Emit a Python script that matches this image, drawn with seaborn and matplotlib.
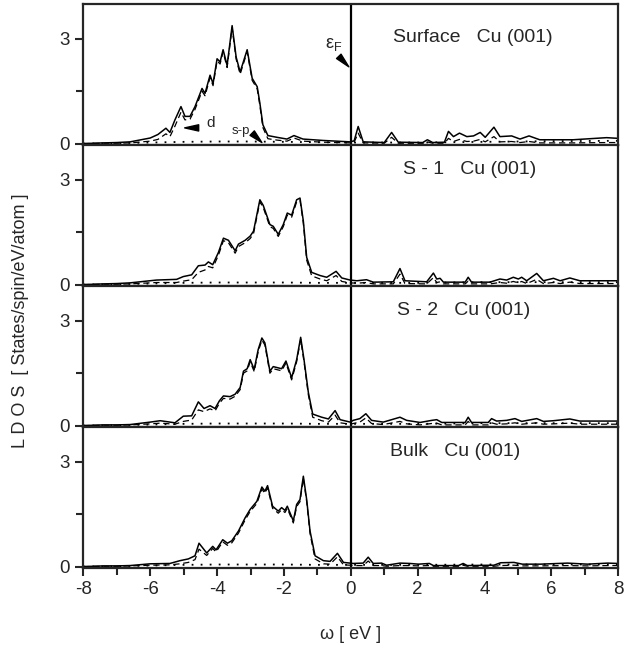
import numpy as np
import matplotlib
matplotlib.use("Agg")
import matplotlib.pyplot as plt
import seaborn as sns

# ---- data (energy in eV, LDOS in states/spin/eV/atom) ----
panel_labels = ["Surface   Cu (001)", "S - 1   Cu (001)", "S - 2   Cu (001)", "Bulk   Cu (001)"]

x_surf = [-8.0, -7.4, -7.0, -6.6, -6.0, -5.77, -5.53, -5.41, -5.26, -5.08, -4.96, -4.81, -4.66, -4.45, -4.36,
          -4.21, -4.12, -4.0, -3.91, -3.82, -3.70, -3.55, -3.43, -3.31, -3.10, -2.95, -2.80, -2.72, -2.63, -2.48,
          -2.21, -1.91, -1.70, -1.43, -0.83, -0.02, 0.1, 0.22, 0.37, 1.0, 1.22, 1.42, 2.15, 2.29, 2.45, 2.8, 2.92,
          3.07, 3.25, 3.47, 3.67, 3.87, 4.02, 4.28, 4.46, 4.81, 5.06, 5.33, 5.65, 6.65, 7.65, 8.0]
tot_surf = [0.0, 0.02, 0.03, 0.05, 0.16, 0.26, 0.44, 0.32, 0.68, 1.06, 0.78, 0.78, 1.06, 1.58, 1.44,
            1.96, 1.72, 2.43, 2.34, 2.69, 2.24, 3.38, 2.48, 2.05, 2.69, 1.87, 1.63, 1.16, 0.54, 0.23,
            0.18, 0.13, 0.23, 0.13, 0.09, 0.05, 0.08, 0.49, 0.05, 0.03, 0.32, 0.04, 0.03, 0.11, 0.03, 0.04, 0.35,
            0.2, 0.3, 0.2, 0.22, 0.32, 0.18, 0.47, 0.2, 0.22, 0.13, 0.22, 0.11, 0.11, 0.17, 0.15]
d_surf = [0.0, 0.01, 0.01, 0.02, 0.07, 0.12, 0.28, 0.2, 0.5, 0.9, 0.68, 0.7, 0.98, 1.5, 1.37,
          1.89, 1.66, 2.37, 2.28, 2.63, 2.18, 3.32, 2.42, 1.99, 2.63, 1.81, 1.57, 1.09, 0.46, 0.14,
          0.1, 0.07, 0.16, 0.07, 0.04, 0.02, 0.04, 0.3, 0.02, 0.01, 0.18, 0.01, 0.01, 0.05, 0.01, 0.01, 0.15,
          0.06, 0.12, 0.06, 0.07, 0.12, 0.05, 0.2, 0.05, 0.06, 0.03, 0.06, 0.02, 0.02, 0.03, 0.03]

x_s1 = [-8.0, -7.4, -7.0, -6.6, -5.81, -5.21, -5.01, -4.76, -4.56, -4.36, -4.26, -4.13, -3.96, -3.81, -3.66,
        -3.46, -3.36, -3.16, -3.01, -2.91, -2.72, -2.62, -2.42, -2.32, -2.17, -2.02, -1.90, -1.77, -1.62, -1.52,
        -1.42, -1.32, -1.17, -0.92, -0.72, -0.44, -0.27, -0.02, 0.18, 0.47, 0.67, 1.27, 1.47, 1.62, 2.27, 2.47,
        2.57, 2.67, 2.77, 3.42, 3.51, 3.61, 4.16, 4.46, 4.66, 4.86, 5.01, 5.11, 5.26, 5.56, 5.76, 6.06, 6.26,
        6.55, 6.85, 8.0]
tot_s1 = [0.0, 0.02, 0.03, 0.05, 0.13, 0.15, 0.23, 0.28, 0.54, 0.56, 0.65, 0.57, 0.92, 1.33, 1.27,
          0.97, 1.16, 1.27, 1.39, 1.53, 2.43, 2.27, 1.72, 1.67, 1.44, 1.72, 2.05, 1.99, 2.43, 2.48,
          1.82, 0.78, 0.35, 0.26, 0.21, 0.38, 0.19, 0.13, 0.11, 0.14, 0.07, 0.08, 0.46, 0.11, 0.08, 0.33,
          0.16, 0.18, 0.07, 0.07, 0.21, 0.07, 0.07, 0.16, 0.13, 0.21, 0.16, 0.21, 0.11, 0.32, 0.11, 0.18, 0.11,
          0.19, 0.11, 0.11]
d_s1 = [0.0, 0.01, 0.01, 0.02, 0.06, 0.06, 0.1, 0.14, 0.35, 0.42, 0.52, 0.48, 0.84, 1.26, 1.2,
        0.9, 1.09, 1.2, 1.32, 1.46, 2.37, 2.21, 1.66, 1.61, 1.38, 1.66, 1.99, 1.93, 2.37, 2.42,
        1.76, 0.7, 0.25, 0.16, 0.11, 0.26, 0.09, 0.05, 0.04, 0.06, 0.02, 0.02, 0.3, 0.03, 0.02, 0.2,
        0.06, 0.08, 0.02, 0.02, 0.1, 0.02, 0.02, 0.06, 0.04, 0.09, 0.05, 0.09, 0.03, 0.15, 0.03, 0.06, 0.03,
        0.07, 0.03, 0.03]

x_s2 = [-8.0, -7.4, -7.0, -6.6, -6.0, -5.7, -5.26, -5.01, -4.76, -4.56, -4.39, -4.21, -4.06, -3.93, -3.81,
        -3.61, -3.46, -3.31, -3.21, -3.10, -3.01, -2.89, -2.77, -2.66, -2.57, -2.42, -2.32, -2.07, -1.94, -1.77,
        -1.62, -1.50, -1.40, -1.27, -1.14, -0.87, -0.67, -0.47, -0.32, -0.02, 0.07, 0.27, 0.45, 0.62, 0.97,
        1.47, 1.67, 2.07, 2.42, 2.57, 2.72, 3.42, 3.51, 3.61, 4.11, 4.21, 4.36, 4.66, 4.91, 5.11, 5.56, 5.76,
        6.06, 6.55, 6.85, 8.0]
tot_s2 = [0.0, 0.02, 0.02, 0.03, 0.1, 0.14, 0.08, 0.27, 0.28, 0.68, 0.49, 0.57, 0.49, 0.71, 0.85,
          0.83, 0.9, 1.09, 1.56, 1.63, 1.89, 1.61, 2.18, 2.51, 2.37, 1.56, 1.69, 1.63, 1.85, 1.37,
          1.89, 2.53, 1.89, 0.95, 0.33, 0.24, 0.19, 0.43, 0.17, 0.1, 0.15, 0.2, 0.34, 0.15, 0.1,
          0.24, 0.15, 0.09, 0.15, 0.17, 0.09, 0.09, 0.24, 0.09, 0.09, 0.2, 0.13, 0.15, 0.2, 0.12, 0.2, 0.12,
          0.14, 0.19, 0.13, 0.13]
d_s2 = [0.0, 0.01, 0.01, 0.02, 0.05, 0.07, 0.04, 0.12, 0.16, 0.45, 0.4, 0.48, 0.42, 0.64, 0.78,
        0.76, 0.84, 1.03, 1.5, 1.57, 1.83, 1.55, 2.12, 2.45, 2.31, 1.5, 1.63, 1.57, 1.79, 1.31,
        1.83, 2.47, 1.83, 0.88, 0.24, 0.14, 0.1, 0.3, 0.08, 0.04, 0.06, 0.1, 0.22, 0.06, 0.03,
        0.12, 0.05, 0.02, 0.06, 0.07, 0.02, 0.02, 0.12, 0.02, 0.02, 0.08, 0.04, 0.05, 0.08, 0.04, 0.08, 0.04,
        0.05, 0.07, 0.04, 0.04]

x_bulk = [-8.0, -7.4, -7.0, -6.6, -6.0, -5.41, -5.11, -4.86, -4.66, -4.54, -4.31, -4.13, -4.03, -3.83, -3.69,
          -3.56, -3.36, -3.16, -3.01, -2.81, -2.66, -2.57, -2.49, -2.34, -2.17, -2.07, -1.97, -1.90, -1.72, -1.62,
          -1.52, -1.42, -1.32, -1.22, -1.07, -0.82, -0.62, -0.40, -0.22, -0.02, 0.07, 0.37, 0.52, 0.67, 0.92,
          1.07, 1.47, 1.77, 2.02, 2.35, 2.47, 3.22, 3.36, 3.48, 4.28, 4.48, 4.88, 5.13, 5.68, 6.48, 7.08, 7.68, 8.0]
tot_bulk = [0.0, 0.02, 0.02, 0.03, 0.08, 0.09, 0.17, 0.22, 0.31, 0.67, 0.39, 0.58, 0.48, 0.77, 0.67,
            0.74, 1.02, 1.4, 1.64, 1.87, 2.28, 2.16, 2.32, 1.73, 1.59, 1.69, 1.61, 1.73, 1.31, 1.78,
            1.92, 2.59, 1.92, 1.02, 0.31, 0.17, 0.15, 0.38, 0.12, 0.1, 0.09, 0.1, 0.27, 0.09, 0.1,
            0.04, 0.1, 0.09, 0.07, 0.09, 0.03, 0.03, 0.09, 0.03, 0.04, 0.11, 0.12, 0.07, 0.07, 0.1, 0.07, 0.1, 0.09]
d_bulk = [0.0, 0.01, 0.01, 0.02, 0.04, 0.05, 0.08, 0.12, 0.2, 0.5, 0.32, 0.52, 0.42, 0.71, 0.61,
          0.68, 0.96, 1.34, 1.58, 1.81, 2.22, 2.1, 2.26, 1.67, 1.53, 1.63, 1.55, 1.67, 1.25, 1.72,
          1.86, 2.53, 1.86, 0.95, 0.22, 0.08, 0.07, 0.28, 0.05, 0.04, 0.03, 0.03, 0.16, 0.03, 0.03,
          0.01, 0.03, 0.03, 0.02, 0.03, 0.01, 0.01, 0.04, 0.01, 0.01, 0.03, 0.04, 0.02, 0.02, 0.03, 0.02, 0.03, 0.03]

x_sp = [-8, -7, -6, -5, -4, -3, -2, -1, 0, 2, 4, 6, 8]
sp_surf = [0.0, 0.01, 0.03, 0.05, 0.06, 0.06, 0.05, 0.04, 0.03, 0.03, 0.05, 0.07, 0.08]
sp_s1 = [0.0, 0.01, 0.03, 0.05, 0.06, 0.06, 0.06, 0.05, 0.05, 0.05, 0.07, 0.07, 0.07]
sp_s2 = [0.0, 0.01, 0.03, 0.05, 0.06, 0.06, 0.06, 0.05, 0.05, 0.05, 0.07, 0.07, 0.07]
sp_bulk = [0.0, 0.01, 0.03, 0.05, 0.06, 0.06, 0.06, 0.05, 0.05, 0.05, 0.06, 0.06, 0.06]

panels = [(x_surf, tot_surf, d_surf, sp_surf),
          (x_s1, tot_s1, d_s1, sp_s1),
          (x_s2, tot_s2, d_s2, sp_s2),
          (x_bulk, tot_bulk, d_bulk, sp_bulk)]
label_pos = [(1.27, 3.03), (1.55, 3.3), (1.38, 3.3), (1.17, 3.3)]

sns.set_style("ticks")
plt.rcParams['font.family'] = ['Liberation Sans', 'DejaVu Sans']
plt.rcParams['mathtext.fontset'] = 'custom'
plt.rcParams['mathtext.rm'] = 'Liberation Sans'
plt.rcParams['axes.unicode_minus'] = False

fig, axs = plt.subplots(4, 1, sharex=True, figsize=(6.41, 6.54), dpi=100,
                        gridspec_kw=dict(hspace=0))
plt.subplots_adjust(left=0.13, right=0.9646, top=0.9939, bottom=0.1315)

for i, (ax, (x, tot, d, sp)) in enumerate(zip(axs, panels)):
    sns.lineplot(x=x_sp, y=sp, ax=ax, color='black', lw=1.3, linestyle=(0, (1, 4)))
    sns.lineplot(x=x, y=d, ax=ax, color='black', lw=0.9, linestyle=(0, (5, 3)))
    sns.lineplot(x=x, y=tot, ax=ax, color='black', lw=1.1)
    ax.axvline(0, color='black', lw=1.6)
    ax.set_xlim(-8, 8)
    ax.set_ylim(-0.04, 4.0)
    ax.set_yticks([0, 3])
    ax.set_yticks([1.5], minor=True)
    ax.set_xticks(np.arange(-8, 9, 2))
    ax.set_xticks(np.arange(-7, 8, 2), minor=True)
    for s in ax.spines.values():
        s.set_linewidth(1.6)
        s.set_visible(True)
    ax.tick_params(axis='y', which='major', direction='out', length=6, width=1.5, labelsize=13.5)
    ax.tick_params(axis='y', which='minor', direction='out', length=5, width=1.5)
    if i < 3:
        ax.tick_params(axis='x', which='both', bottom=False, labelbottom=False)
    else:
        ax.tick_params(axis='x', which='major', direction='out', length=6, width=1.5, labelsize=13.5)
        ax.tick_params(axis='x', which='minor', direction='out', length=5, width=1.5)
    ax.set_xlabel("")
    ax.set_ylabel("")
    ax.text(label_pos[i][0], label_pos[i][1], panel_labels[i], fontsize=14, ha='left', va='center')

# annotations in the surface panel
top = axs[0]
wedge = dict(arrowstyle="wedge,tail_width=0.45", color='black', shrinkA=0, shrinkB=0)
top.text(-0.5, 2.85, r"ε$_{\rm F}$", fontsize=13, ha='center', va='center')
top.annotate("", xy=(-0.06, 2.2), xytext=(-0.36, 2.5), arrowprops=wedge)
top.text(-4.2, 0.58, "d", fontsize=11, ha='center', va='center')
top.annotate("", xy=(-4.97, 0.45), xytext=(-4.55, 0.45), arrowprops=wedge)
top.text(-3.3, 0.36, "s-p", fontsize=9.5, ha='center', va='center')
top.annotate("", xy=(-2.66, 0.03), xytext=(-2.95, 0.3), arrowprops=wedge)

fig.text(0.5 + 0.047, 0.03, "ω [ eV ]", ha='center', va='center', fontsize=13)
fig.text(0.032, 0.51, "L D O S  [ States/spin/eV/atom ]", rotation=90, ha='center', va='center', fontsize=13)

fig.savefig("out.png", dpi=100)
